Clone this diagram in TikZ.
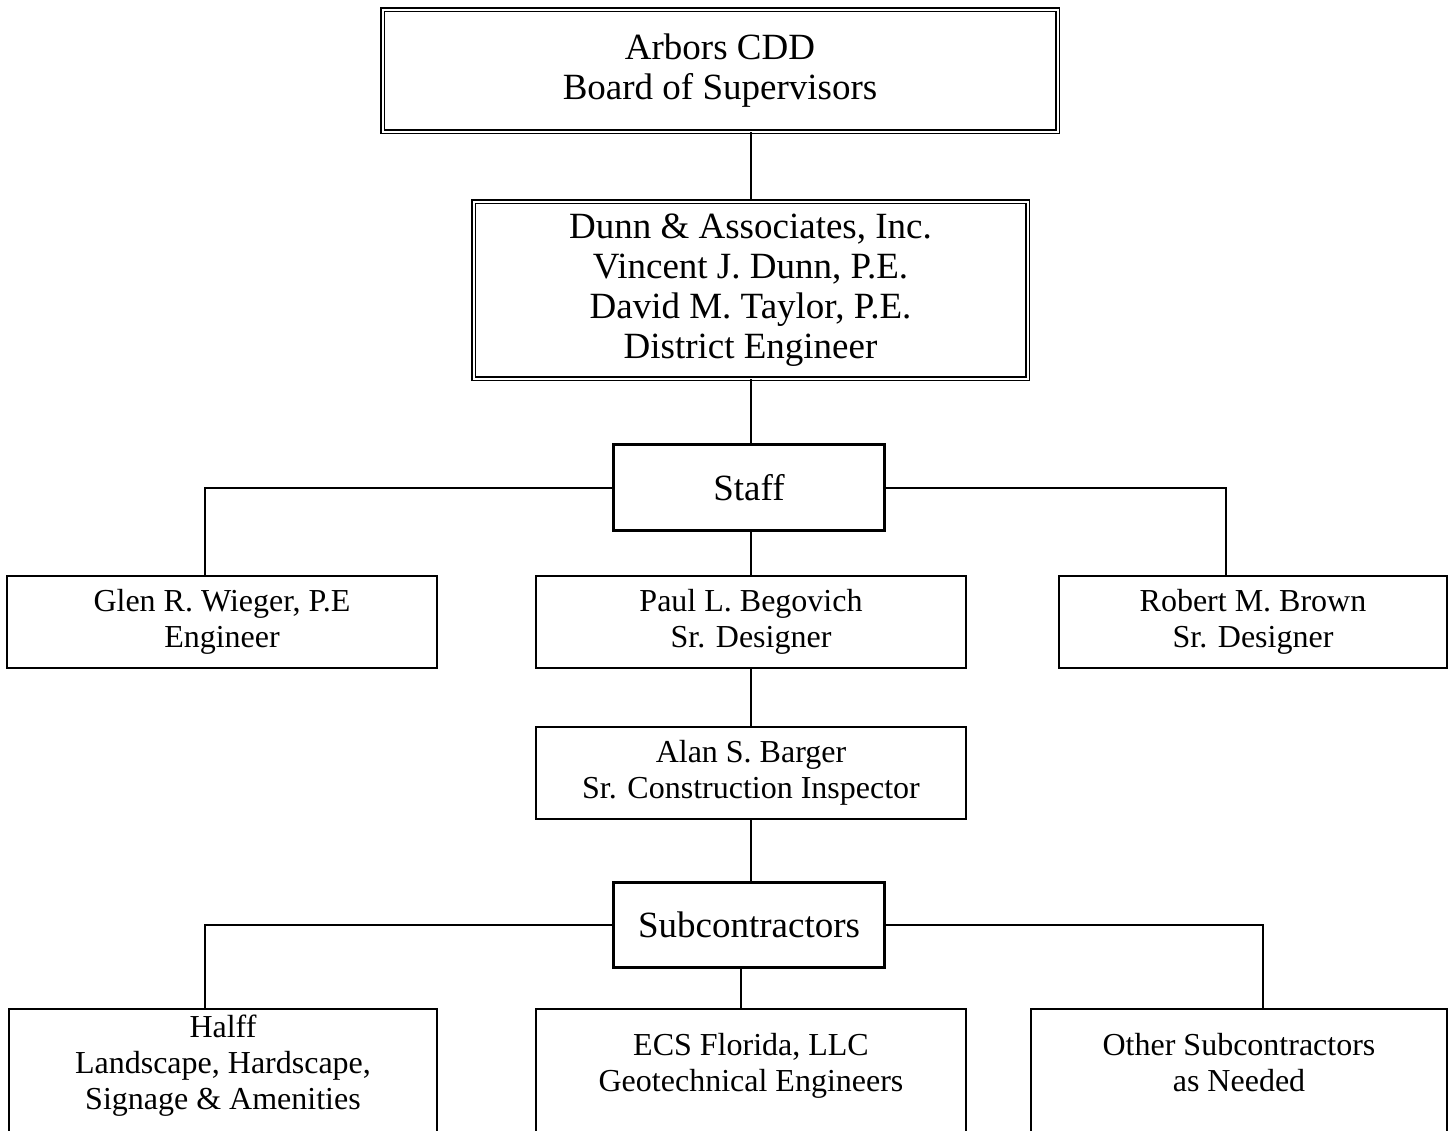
\documentclass[tikz,border=0pt]{standalone}
\usepackage{fontspec}
\setmainfont{Liberation Serif}
\usetikzlibrary{shadows}

% raise the text of a box whose lower edge runs off the page
\newcommand{\liftbox}[1]{\raisebox{6.5pt}[\height][\depth]{\begin{tabular}{@{}c@{}}#1\end{tabular}}}

\begin{document}
\begin{tikzpicture}[x=0.5pt, y=-0.5pt,
    bigtext/.style={font=\fontsize{18.5}{20}\selectfont, align=center},
    smalltext/.style={font=\fontsize{16}{18}\selectfont, align=center},
    doublebox/.style={draw, double, double distance=1pt, line width=0.9pt, inner sep=0pt, bigtext},
    headbox/.style={draw, fill=white, line width=1.5pt, inner sep=0pt, bigtext,
        general shadow={fill=black, shadow xshift=0.6pt, shadow yshift=-0.6pt}},
    namebox/.style={draw, line width=1pt, inner sep=0pt, smalltext, minimum width=215pt, minimum height=46pt},
    link/.style={line width=1pt}]

    % Fix the page to the size of the picture
    \useasboundingbox (0,0) rectangle (1455,1130);
    \clip (0,0) rectangle (1455,1130);

    % Board and district engineer
    \node[doublebox, minimum width=337.5pt, minimum height=61pt] (board) at (720,70.5)
        {Arbors CDD\\Board of Supervisors};
    \node[doublebox, minimum width=277pt, minimum height=88.5pt] (dunn) at (750.5,290)
        {Dunn \& Associates, Inc.\\Vincent J. Dunn, P.E.\\David M. Taylor, P.E.\\District Engineer};

    % Staff
    \node[headbox, minimum width=135.5pt, minimum height=43pt] (staff) at (749,487.5) {Staff};
    \node[namebox] (glen) at (222,622) {Glen R. Wieger, P.E\\Engineer};
    \node[namebox] (paul) at (751,622) {Paul L. Begovich\\Sr. Designer};
    \node[namebox, minimum width=194pt] (robert) at (1253,622) {Robert M. Brown\\Sr. Designer};
    \node[namebox] (alan) at (751,773) {Alan S. Barger\\Sr. Construction Inspector};

    % Subcontractors (lower edges run off the page)
    \node[headbox, minimum width=135.5pt, minimum height=42.5pt] (sub) at (749,924.5) {Subcontractors};
    \node[namebox, anchor=north, minimum width=214pt, minimum height=70pt] (halff) at (223,1008)
        {\liftbox{Halff\\Landscape, Hardscape,\\Signage \& Amenities}};
    \node[namebox, anchor=north, minimum height=70pt] (ecs) at (751,1008)
        {\liftbox{ECS Florida, LLC\\Geotechnical Engineers}};
    \node[namebox, anchor=north, minimum width=208pt, minimum height=70pt] (other) at (1239,1008)
        {\liftbox{Other Subcontractors\\as Needed}};

    % Where the connectors meet the boxes
    \coordinate (glenin) at ([xshift=-8.5pt]glen.north);
    \coordinate (robertin) at ([xshift=-13.5pt]robert.north);
    \coordinate (halffin) at ([xshift=-9pt]halff.north);
    \coordinate (ecsin) at ([xshift=-5pt]ecs.north);
    \coordinate (otherin) at ([xshift=12pt]other.north);

    % Connectors
    \draw[link] (dunn.north |- board.south) -- (dunn.north);
    \draw[link] (dunn.south) -- (dunn.south |- staff.north);
    \draw[link] (staff.west) -| (glenin);
    \draw[link] (staff.east) -| (robertin);
    \draw[link] (staff.south -| dunn.south) -- (paul.north -| dunn.south);
    \draw[link] (paul.south -| dunn.south) -- (alan.north -| dunn.south);
    \draw[link] (alan.south -| dunn.south) -- (sub.north -| dunn.south);
    \draw[link] (sub.west) -| (halffin);
    \draw[link] (sub.east) -| (otherin);
    \draw[link] (ecsin |- sub.south) -- (ecsin);

\end{tikzpicture}
\end{document}
